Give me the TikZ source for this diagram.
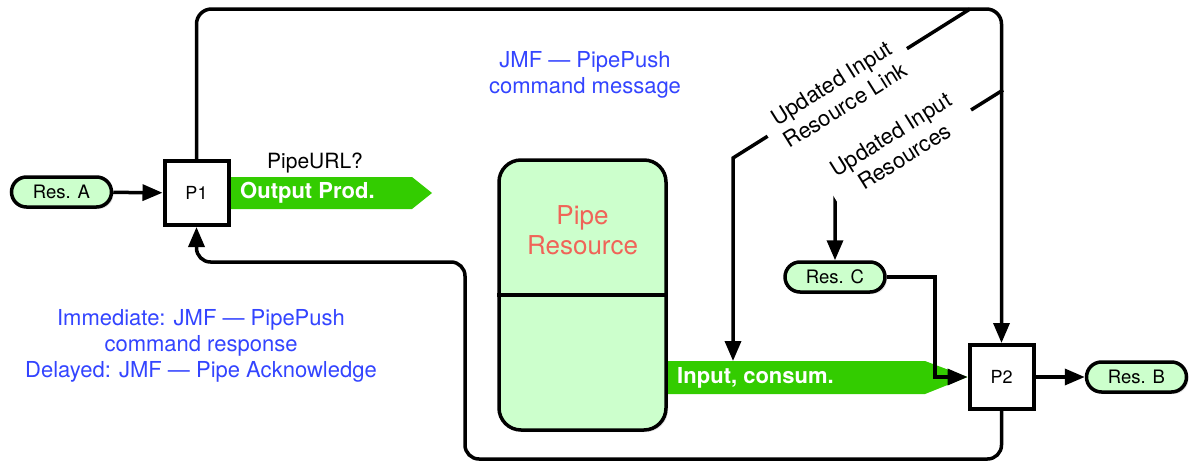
\documentclass[tikz,border=0pt]{standalone}
\usepackage{fontspec}
\setmainfont{TeX Gyre Heros}
\usetikzlibrary{arrows.meta,positioning,shadows,backgrounds}

\definecolor{resgreen}{RGB}{204,255,204}
\definecolor{flowgreen}{RGB}{51,204,0}
\definecolor{msgblue}{RGB}{51,68,255}
\definecolor{pipered}{RGB}{240,100,88}

\begin{document}
\begin{tikzpicture}[
    x=1pt, y=-1pt,
    >={Triangle[length=20pt,width=16pt]},
    shade/.style={drop shadow={shadow xshift=2pt, shadow yshift=-2pt, opacity=0.25}},
    res/.style={draw, line width=3.5pt, rounded corners=15pt, fill=resgreen, shade,
        minimum width=100pt, minimum height=30pt, font=\fontsize{18.5}{20}\selectfont},
    proc/.style={draw, line width=4pt, fill=white, shade, minimum size=64pt,
        font=\fontsize{18}{20}\selectfont},
    pipebox/.style={draw, line width=3.5pt, rounded corners=22pt, fill=resgreen, shade,
        minimum width=167pt, minimum height=270pt},
    link/.style={line width=3.5pt},
    msg/.style={text=msgblue, align=center, font=\fontsize{22}{26}\selectfont},
    flowtext/.style={text=white, anchor=west, inner sep=0pt, font=\bfseries\fontsize{22}{24}\selectfont},
    diaglabel/.style={fill=white, rotate=32, align=center, inner xsep=12pt, inner ysep=1pt,
        font=\fontsize{22}{26}\selectfont}
]
    \useasboundingbox (0,0) rectangle (1191,463);

    % resources and processes
    \node[res] (resA) at (61.5,192) {Res. A};
    \node[proc] (P1) at (196.5,193) {P1};
    \node[pipebox] (pipe) at (582.5,295) {};
    \node[text=pipered, align=center, font=\fontsize{26}{30}\selectfont] (pipelbl) at (582.5,230) {Pipe\\Resource};
    \draw[link] (pipe.west) -- (pipe.east);
    \node[proc] (P2) at (1001.5,377) {P2};
    \node[res] (resB) at (1136.5,377) {Res. B};
    \node[res] (resC) at (835,277) {Res. C};

    % green flows
    \begin{scope}[on background layer]
        \fill[flowgreen] (P1.east |- 0,177) -- (412,177) -- (432,193) -- (412,209) -- (P1.east |- 0,209) -- cycle;
        \fill[flowgreen] (pipe.east |- 0,361) -- (925,361) -- (P2.west) -- (925,394) -- (pipe.east |- 0,394) -- cycle;
    \end{scope}
    \node[flowtext] (outlbl) at (240,193) {Output Prod.};
    \node[font=\fontsize{21}{24}\selectfont] (url) at (315,163) {PipeURL?};
    \node[flowtext] (inlbl) at (677,378) {Input, consum.};

    % messages
    \node[msg] (pushmsg) at (585,75) {JMF — PipePush\\command message};
    \node[msg] (pushresp) at (201,346) {Immediate: JMF — PipePush\\command response\\Delayed: JMF — Pipe Acknowledge};

    % connectors
    \draw[link,->] (resA) -- (P1);
    \draw[link,->] (P2) -- (resB);
    \draw[link,->] (resC.east) -- ++(48,0) |- (P2.west);
    \draw[link,->,rounded corners=15pt] (P1.north) -- (P1.north |- 0,9) -- (P2.north |- 0,9) -- (P2.north);
    \draw[link,->,rounded corners=14pt] (P2.south) -- (P2.south |- 0,459) -- (465,459) -- (465,262)
        -- (P1.south |- 0,262) -- (P1.south);

    \coordinate (linkA) at (970,9);
    \coordinate (linkB) at (733,158);
    \coordinate (inTop) at (733,361);
    \draw[link,->] (linkA) -- node[diaglabel, pos=0.56, yshift=-2pt] {Updated Input\\Resource Link} (linkB) -- (inTop);

    \coordinate (rsrcA) at (1003,90);
    \coordinate (rsrcB) at (835,195);
    \draw[link,->] (rsrcA) -- node[diaglabel, pos=0.6, yshift=9pt] {Updated Input\\Resources} (rsrcB) -- (resC.north);
\end{tikzpicture}
\end{document}
